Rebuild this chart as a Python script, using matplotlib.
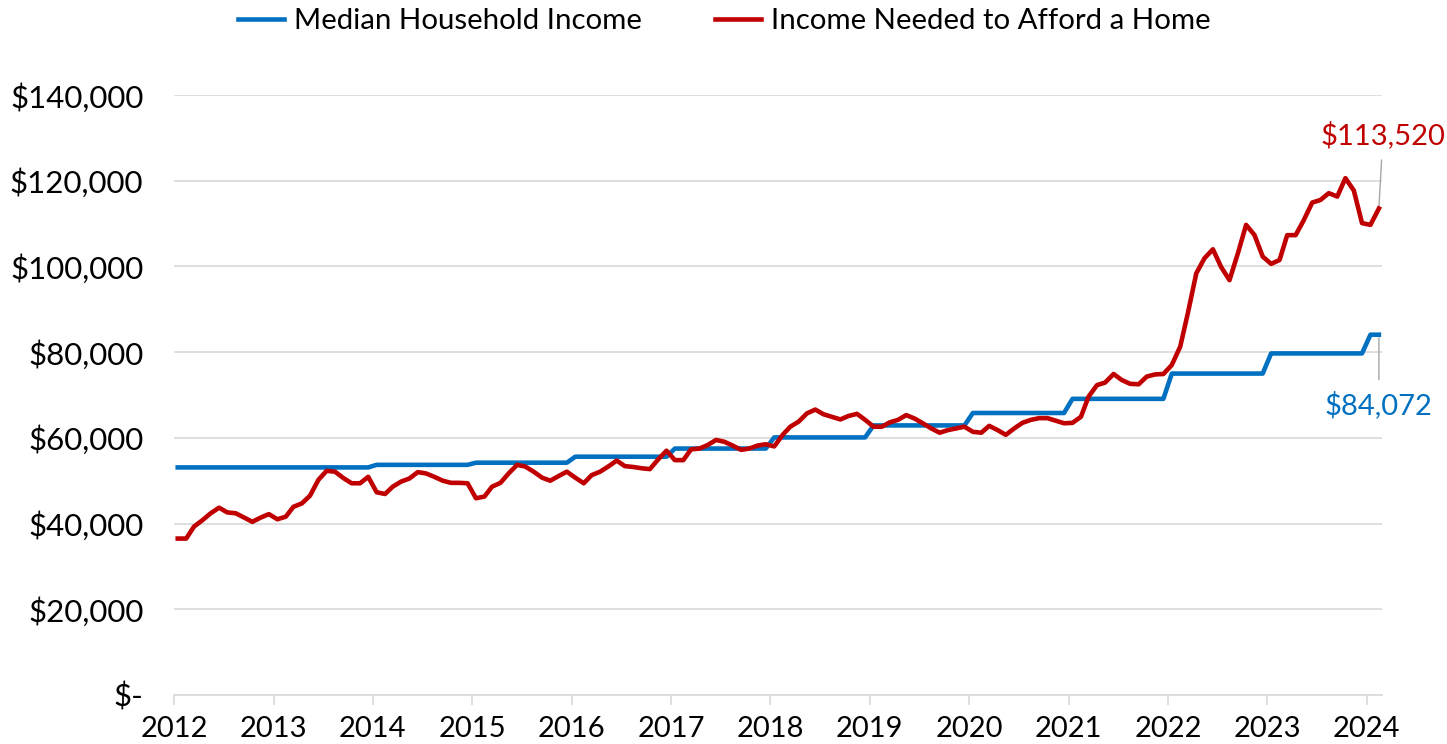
import numpy as np
import pandas as pd
import matplotlib
matplotlib.use("Agg")
import matplotlib.pyplot as plt
import matplotlib.dates as mdates
from matplotlib.ticker import FuncFormatter

plt.rcParams['font.family'] = ['Lato', 'DejaVu Sans']

# monthly series, Jan 2012 - Feb 2024 (plotted mid-month)
months = pd.date_range('2012-01-01', periods=146, freq='MS') + pd.Timedelta(days=14)

# income needed to afford a home
income_needed = [
    36500, 36500, 39300, 40800, 42400, 43700, 42600, 42400, 41400, 40400, 41400, 42200,  # 2012
    41000, 41600, 43900, 44700, 46500, 50200, 52300, 52100, 50600, 49400, 49400, 50900,  # 2013
    47300, 46900, 48600, 49800, 50500, 52000, 51700, 50900, 50000, 49500, 49500, 49400,  # 2014
    45900, 46300, 48600, 49500, 51700, 53700, 53300, 52100, 50700, 50000, 51100, 52100,  # 2015
    50700, 49400, 51300, 52100, 53300, 54700, 53400, 53200, 52900, 52700, 55000, 57000,  # 2016
    54800, 54800, 57300, 57500, 58300, 59500, 59100, 58200, 57200, 57500, 58200, 58500,  # 2017
    58000, 60700, 62600, 63800, 65700, 66600, 65500, 64900, 64300, 65100, 65600, 64200,  # 2018
    62600, 62600, 63600, 64200, 65300, 64500, 63400, 62200, 61200, 61800, 62200, 62600,  # 2019
    61400, 61200, 62800, 61800, 60700, 62200, 63500, 64200, 64600, 64600, 64000, 63400,  # 2020
    63500, 64900, 69600, 72300, 72900, 74900, 73500, 72600, 72500, 74300, 74800, 74900,  # 2021
    77000, 81300, 89100, 98400, 101900, 104000, 99900, 96800, 103100, 109700, 107300, 102300,  # 2022
    100600, 101500, 107300, 107300, 110800, 114900, 115500, 117100, 116300, 120600, 117700, 110100,  # 2023
    109700, 113520,  # 2024
]

# median household income, one value per year
years = list(range(2012, 2025))
median_income_annual = [53100, 53100, 53700, 54200, 55600, 57500, 60100,
                        62900, 65800, 69100, 75000, 79700, 84072]
median_income = np.repeat(median_income_annual, 12)[:len(months)]

blue = '#0070C0'
red = '#C00000'

fig = plt.figure(figsize=(14.47, 7.44), dpi=100)
ax = fig.add_axes([0.1202, 0.0659, 0.8348, 0.8064])

ax.plot(months, median_income, color=blue, lw=3.3, label='Median Household Income',
        solid_joinstyle='round', zorder=3)
ax.plot(months, income_needed, color=red, lw=3.3, label='Income Needed to Afford a Home',
        solid_joinstyle='round', zorder=4)

# end labels
ax.annotate(f'${income_needed[-1]:,}', xy=(months[-1], income_needed[-1]),
            xytext=(months[-1] + pd.Timedelta(days=15), 130700), textcoords='data',
            ha='center', va='center', fontsize=21, color=red,
            arrowprops=dict(arrowstyle='-', color='#A6A6A6', lw=1, shrinkA=6, shrinkB=1),
            annotation_clip=False)
ax.annotate(f'${median_income[-1]:,}', xy=(months[-1], median_income[-1]),
            xytext=(months[-1], 67700), textcoords='data',
            ha='center', va='center', fontsize=21, color=blue,
            arrowprops=dict(arrowstyle='-', color='#A6A6A6', lw=1, shrinkA=6, shrinkB=2),
            annotation_clip=False)

ax.set_ylim(0, 140000)
ax.set_xlim(pd.Timestamp('2012-01-01'), pd.Timestamp('2024-02-26'))
ax.set_yticks(np.arange(0, 140001, 20000))
ax.yaxis.set_major_formatter(FuncFormatter(lambda v, p: '$-' if v == 0 else f'${v:,.0f}'))
ax.xaxis.set_major_locator(mdates.YearLocator())
ax.xaxis.set_major_formatter(mdates.DateFormatter('%Y'))

ax.grid(axis='y', color='#D9D9D9', lw=1.2, zorder=0)
ax.grid(axis='x', visible=False)
for s in ['top', 'right', 'left']:
    ax.spines[s].set_visible(False)
ax.spines['bottom'].set_color('#D9D9D9')
ax.spines['bottom'].set_linewidth(1.2)
ax.tick_params(axis='y', length=0, pad=22, labelsize=22.5, labelcolor='#000000')
ax.tick_params(axis='x', length=7, width=1.2, color='#D9D9D9', pad=8, labelsize=21)

fig.legend(loc='center', bbox_to_anchor=(0.5007, 0.972), ncol=2, frameon=False,
           fontsize=21.2, handlelength=1.55, handletextpad=0.35, columnspacing=2.5)

fig.savefig('out.png', dpi=100)
